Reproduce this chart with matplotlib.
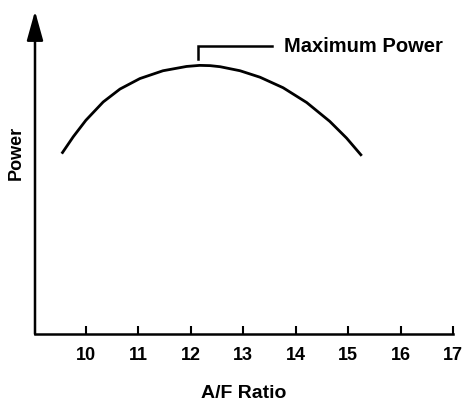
import matplotlib
matplotlib.use("Agg")
import matplotlib.pyplot as plt

# Engine power versus air/fuel ratio (relative power, % of peak)
af_ratio = [9.54, 9.76, 10.00, 10.33, 10.65, 11.03, 11.47, 11.92, 12.17,
            12.37, 12.56, 12.94, 13.32, 13.76, 14.21, 14.65, 14.97, 15.26]
power = [67.0, 73.3, 79.4, 86.2, 91.0, 94.9, 97.8, 99.4, 99.8,
         99.7, 99.3, 97.8, 95.4, 91.5, 86.0, 79.0, 72.8, 66.2]

x_ticks = [10, 11, 12, 13, 14, 15, 16, 17]
x_min, x_max = 9.03, 17
y_min, y_max = 0, 120

# Call-out for the power peak
max_power_af = 12.13
max_power_label = "Maximum Power"

plt.rcParams['font.family'] = ['Liberation Sans', 'DejaVu Sans']
plt.rcParams['font.weight'] = 'bold'

fig = plt.figure(figsize=(4.66, 4.06), dpi=100)
ax = fig.add_axes([35 / 466, 71 / 406, 418 / 466, 323 / 406])

ax.plot(af_ratio, power, color='black', lw=2.0, solid_capstyle='butt',
        solid_joinstyle='round')

ax.set_xlim(x_min, x_max)
ax.set_ylim(y_min, y_max)

for side in ('top', 'right', 'left'):
    ax.spines[side].set_visible(False)
ax.spines['bottom'].set_linewidth(1.8)

ax.set_xticks(x_ticks)
ax.set_xticklabels([str(t) for t in x_ticks])
ax.set_yticks([])
ax.tick_params(axis='x', direction='in', length=6, width=1.5, pad=9,
               labelsize=13)

# Vertical axis drawn as an arrow
ax.annotate('', xy=(0, 1), xytext=(0, 0), xycoords='axes fraction',
            textcoords='axes fraction',
            arrowprops=dict(arrowstyle='-|>,head_length=1.8,head_width=0.5',
                            lw=1.8, color='black', shrinkA=0, shrinkB=0,
                            mutation_scale=10))

ax.set_xlabel('A/F Ratio', fontsize=14, fontweight='bold', labelpad=15)
ax.set_ylabel('Power', fontsize=13, fontweight='bold')
ax.yaxis.set_label_coords(-0.024, 0.565)

# Bracket pointing at the peak
peak = max(power)
y_low = peak + 2.4
y_high = peak + 7.3
x_end = 13.55
ax.plot([max_power_af, max_power_af, x_end], [y_low, y_high, y_high],
        color='black', lw=1.8, solid_joinstyle='miter')
ax.text(13.78, y_high, max_power_label, fontsize=14.5, fontweight='bold',
        ha='left', va='center')

fig.savefig('out.png', dpi=100)
